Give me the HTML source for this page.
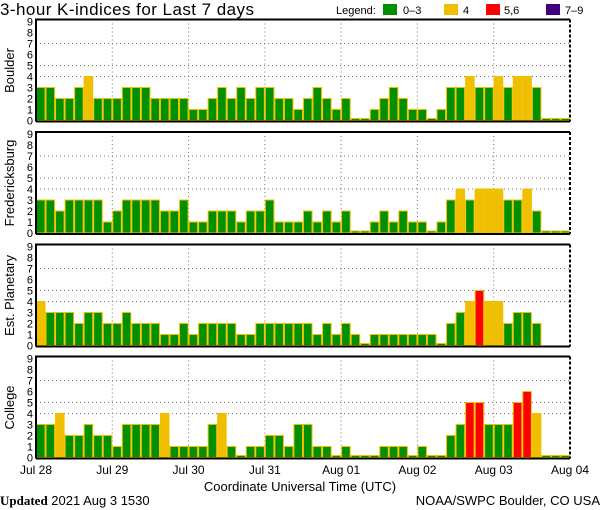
<!DOCTYPE html>
<html><head><meta charset="utf-8"><style>
body{margin:0;background:#fff;}
svg{display:block;font-family:"Liberation Sans",sans-serif;}
</style></head><body>
<svg id="chart" width="600" height="510" viewBox="0 0 600 510" xmlns="http://www.w3.org/2000/svg">
<text x="0" y="15" font-size="17" textLength="254">3-hour K-indices for Last 7 days</text>
<g font-size="11">
<text x="336" y="14">Legend:</text>
<rect x="383" y="4" width="14" height="11" fill="#009000"/>
<text x="403" y="14">0–3</text>
<rect x="444" y="4" width="14" height="11" fill="#f0c000"/>
<text x="463" y="14">4</text>
<rect x="486" y="4" width="14" height="11" fill="#ff0000"/>
<text x="504" y="14">5,6</text>
<rect x="546" y="4" width="14" height="11" fill="#400080"/>
<text x="565" y="14">7–9</text>
</g>
<g id="panels"></g>
<g id="xlabels" font-size="12"></g>
<text x="300" y="491" font-size="13" text-anchor="middle">Coordinate Universal Time (UTC)</text>
<text x="0" y="505" font-size="13"><tspan font-weight="bold" font-family="Liberation Serif,serif">Updated</tspan> 2021 Aug  3 1530</text>
<text x="600" y="505" font-size="13" text-anchor="end">NOAA/SWPC Boulder, CO USA</text>
</svg>
<script>
const stations = ["Boulder","Fredericksburg","Est. Planetary","College"];
const dayLabels = ["Jul 28","Jul 29","Jul 30","Jul 31","Aug 01","Aug 02","Aug 03","Aug 04"];
const yTicks = [0,1,2,3,4,5,6,7,8,9];
const boulder = [3,3,2,2,3,4,2,2, 2,3,3,3,2,2,2,2, 1,1,2,3,2,3,2,3, 3,2,2,1,2,3,2,1, 2,0,0,1,2,3,2,1, 1,0,1,3,3,4,3,3, 4,3,4,4,3,0,0,0];
const fredericksburg = [3,3,2,3,3,3,3,1, 2,3,3,3,3,2,2,3, 1,1,2,2,2,1,2,2, 3,1,1,1,2,1,2,1, 2,0,0,1,2,1,2,1, 1,0,1,3,4,3,4,4, 4,3,3,4,2,0,0,0];
const planetary = [4,3,3,3,2,3,3,2, 2,3,2,2,2,1,1,2, 1,2,2,2,2,1,1,2, 2,2,2,2,2,1,2,1, 2,1,0,1,1,1,1,1, 1,1,0,2,3,4,5,4, 4,2,3,3,2,null,null,null];
const college = [3,3,4,2,2,3,2,2, 1,3,3,3,3,4,1,1, 1,1,3,4,1,0,1,1, 2,2,1,3,3,1,1,0, 1,0,0,0,1,1,1,0, 1,0,0,2,3,5,5,3, 3,3,5,6,4,0,0,0];
const series = [boulder,fredericksburg,planetary,college];

const NS="http://www.w3.org/2000/svg";
const X0=36, X1=570, N=56, UNIT=11;
const zeros=[120.5,233,345.5,457.5];
const xs = i => X0 + i*(X1-X0)/N;
const ys = (p,v) => zeros[p] - v*UNIT;
function mk(tag, attrs, parent){const e=document.createElementNS(NS,tag);for(const k in attrs)e.setAttribute(k,attrs[k]);parent.appendChild(e);return e;}
function color(v){return v>=7?"#400080":v>=5?"#ff0000":v===4?"#f0c000":"#009000";}
const root=document.getElementById("panels");
series.forEach((data,p)=>{
  const g=mk("g",{},root);
  
  
  const top=zeros[p]-101;
  [4,5,7].forEach(v=>{const l=mk("line",{x1:X0,x2:X1,y1:ys(p,v),y2:ys(p,v),stroke:"#777","stroke-dasharray":"1,3"},g);
    
    });
  for(let d=1;d<7;d++){const l=mk("line",{x1:xs(d*8),x2:xs(d*8),y1:top,y2:zeros[p],stroke:"#777","stroke-dasharray":"1,3"},g);
    
    }
  const w=(X1-X0)/N;
  data.forEach((v,i)=>{
    if(v===null)return;
    const h=Math.max(v*UNIT,2);
    const r=mk("rect",{x:xs(i)+0.5,y:zeros[p]-h,width:w-1,height:h,fill:color(v),stroke:"#f0c000","stroke-width":1},g);
    
    
  });
  const fr=mk("path",{d:`M${X0},${zeros[p]+1} V${top} H${X1}`,fill:"none",stroke:"#000","stroke-width":2},g);
  
  
  const rb=mk("line",{x1:X1,x2:X1,y1:top,y2:zeros[p]+1,stroke:"#000","stroke-width":2,"stroke-dasharray":"3,2"},g);
  
  
  const bl=mk("line",{x1:X0,x2:X1,y1:zeros[p]+1,y2:zeros[p]+1,stroke:"#000","stroke-width":2},g);
  
  
  yTicks.forEach(v=>{const t=mk("text",{x:33,y:ys(p,v)+4,"font-size":11,"text-anchor":"end"},g);t.textContent=v;
    
    });
  const cy=zeros[p]-50;
  const lab=mk("text",{x:14,y:cy,"font-size":13,"text-anchor":"middle",transform:`rotate(-90 14 ${cy})`},g);
  lab.textContent=stations[p];
  
  
});
const xl=document.getElementById("xlabels");
dayLabels.forEach((d,i)=>{const t=mk("text",{x:xs(i*8),y:474,"text-anchor":"middle"},xl);t.textContent=d;
  
  });
</script>
</body></html>
